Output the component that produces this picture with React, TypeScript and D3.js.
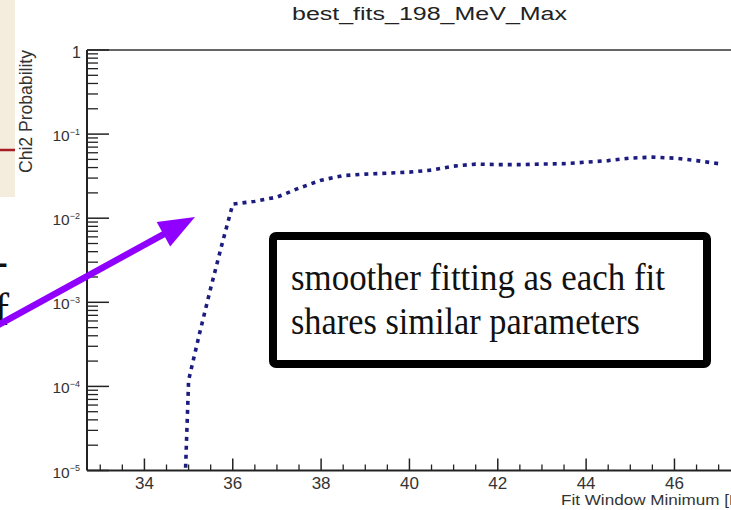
import React from "react";
import * as d3 from "d3";

// Chi2 probability of the best fit vs. the lower edge of the fit window
const fitWindowMin = [
  34.8, 35.0, 35.25, 35.5, 35.75, 36.0, 36.5, 37.0, 37.5, 38.0, 38.5, 39.0, 39.5,
  40.0, 40.5, 41.0, 41.5, 42.0, 42.5, 43.0, 43.5, 44.0, 44.5, 45.0, 45.5, 46.0,
  46.5, 47.0,
];
const chi2Prob = [
  1e-7, 1.18e-4, 4.3e-4, 1.47e-3, 4.77e-3, 0.0147, 0.0159, 0.0178, 0.0228, 0.0283,
  0.0321, 0.0334, 0.0343, 0.0353, 0.0373, 0.0416, 0.044, 0.0434, 0.0434, 0.044,
  0.0445, 0.0464, 0.0484, 0.0518, 0.0532, 0.0518, 0.0484, 0.0445,
];

const xMajorTicks = [34, 36, 38, 40, 42, 44, 46];
const yDecadeExponents = [0, -1, -2, -3, -4, -5];

const plotTitle = "best_fits_198_MeV_Max";
const xAxisTitle = "Fit Window Minimum [MeV]";
const yAxisTitle = "Chi2 Probability";
const noteLines = ["smoother fitting as each fit", "shares similar parameters"];

const SANS = "'Liberation Sans', Arial, Helvetica, sans-serif";
const SERIF = "'Liberation Serif', 'Times New Roman', serif";

export default function App() {
  const W = 731;
  const H = 510;
  const frame = { left: 87, right: 731, top: 50, bottom: 470.5 };

  const x = d3.scaleLinear().domain([32.7, 47.28]).range([frame.left, 731]);
  const y = d3.scaleLog().domain([1e-5, 1]).range([frame.bottom, frame.top]);

  const pts: [number, number][] = fitWindowMin.map((v, i) => [v, chi2Prob[i]]);
  const path = d3
    .line<[number, number]>()
    .x((d) => x(d[0]))
    .y((d) => y(d[1]))(pts) as string;

  // minor x ticks every 0.5 inside the frame
  const xMinor = d3.range(33, 47.51, 0.5).filter((v) => !xMajorTicks.includes(v));
  // minor y ticks 2..9 × each decade
  const yMinor: number[] = [];
  yDecadeExponents.slice(1).forEach((e) => {
    for (let k = 2; k <= 9; k++) yMinor.push(k * Math.pow(10, e));
  });

  // annotation arrow geometry
  const tip = [195, 217];
  const tail = [-40, 324 + 40 * (107 / 195)];
  const ux = (tip[0] - tail[0]);
  const uy = (tip[1] - tail[1]);
  const ul = Math.hypot(ux, uy);
  const u = [ux / ul, uy / ul];
  const n = [-u[1], u[0]];
  const headLen = 36;
  const headHalf = 14;
  const base = [tip[0] - headLen * u[0], tip[1] - headLen * u[1]];
  const c1 = [base[0] + headHalf * n[0], base[1] + headHalf * n[1]];
  const c2 = [base[0] - headHalf * n[0], base[1] - headHalf * n[1]];

  return (
    <div style={{ position: "absolute", left: 0, top: 0 }}>
      <svg width={W} height={H} style={{ display: "block", background: "#fff" }}>
        <defs>
          <clipPath id="frameClip">
            <rect x={frame.left} y={frame.top} width={frame.right - frame.left} height={frame.bottom - frame.top} />
          </clipPath>
        </defs>

        {/* slide margin on the left */}
        <rect x={0} y={0} width={15} height={197} fill="#f4ecdc" />
        <line x1={0} x2={15} y1={150} y2={150} stroke="#a51d22" strokeWidth={2.5} />
        <text x={9} y={325} textAnchor="end" fontFamily={SERIF} fontSize={46} fill="#111">of</text>
        <text x={8} y={276} textAnchor="end" fontFamily={SERIF} fontSize={46} fill="#111">-</text>

        {/* title */}
        <text x={292} y={20} fontFamily={SANS} fontSize={17.5} fill="#222" textLength={275} lengthAdjust="spacingAndGlyphs">
          {plotTitle}
        </text>

        {/* data */}
        <path
          d={path}
          fill="none"
          stroke="#1c1c80"
          strokeWidth={3.6}
          strokeDasharray="4 5"
          clipPath="url(#frameClip)"
        />

        {/* frame top */}
        <line x1={frame.left} x2={frame.right} y1={frame.top} y2={frame.top} stroke="#666" strokeWidth={2} />

        {/* y axis */}
        <line x1={frame.left} x2={frame.left} y1={frame.top} y2={frame.bottom} stroke="#222" strokeWidth={2} />
        {yDecadeExponents.map((e) => (
          <line key={"ymaj" + e} x1={frame.left} x2={frame.left + 22} y1={y(Math.pow(10, e))} y2={y(Math.pow(10, e))} stroke="#222" strokeWidth={1.5} />
        ))}
        {yMinor.map((v, i) => (
          <line key={"ymin" + i} x1={frame.left} x2={frame.left + 11} y1={y(v)} y2={y(v)} stroke="#222" strokeWidth={1.3} />
        ))}
        {yDecadeExponents.map((e) =>
          e === 0 ? (
            <text key={"yl" + e} x={81} y={y(1) + 8} textAnchor="end" fontFamily={SANS} fontSize={16} fill="#333">1</text>
          ) : (
            <text key={"yl" + e} x={80} y={y(Math.pow(10, e)) + 7} textAnchor="end" fontFamily={SANS} fontSize={15.5} fill="#333">
              10
              <tspan dy={-6.5} fontSize={9}>{"\u2212" + Math.abs(e)}</tspan>
            </text>
          )
        )}
        <text
          transform={`translate(32,111.5) rotate(-90)`}
          textAnchor="middle"
          fontFamily={SANS}
          fontSize={18}
          fill="#333"
          textLength={123}
          lengthAdjust="spacingAndGlyphs"
        >
          {yAxisTitle}
        </text>

        {/* x axis */}
        <line x1={frame.left} x2={frame.right} y1={frame.bottom} y2={frame.bottom} stroke="#222" strokeWidth={2} />
        {xMajorTicks.map((v) => (
          <line key={"xmaj" + v} x1={x(v)} x2={x(v)} y1={frame.bottom} y2={frame.bottom - 12} stroke="#222" strokeWidth={1.5} />
        ))}
        {xMinor.map((v, i) => (
          <line key={"xmin" + i} x1={x(v)} x2={x(v)} y1={frame.bottom} y2={frame.bottom - 6} stroke="#222" strokeWidth={1.3} />
        ))}
        {xMajorTicks.map((v) => (
          <text key={"xl" + v} x={x(v)} y={489} textAnchor="middle" fontFamily={SANS} fontSize={17} fill="#333">
            {v}
          </text>
        ))}
        <text x={561} y={505} fontFamily={SANS} fontSize={15.5} fill="#333" textLength={208} lengthAdjust="spacingAndGlyphs">
          {xAxisTitle}
        </text>

        {/* annotation box */}
        <rect x={273} y={236} width={434} height={128} rx={3} fill="#fff" stroke="#000" strokeWidth={8} />
        <text x={291} y={290} fontFamily={SERIF} fontSize={37} fill="#111" textLength={374} lengthAdjust="spacingAndGlyphs">
          {noteLines[0]}
        </text>
        <text x={291} y={334} fontFamily={SERIF} fontSize={37} fill="#111" textLength={349} lengthAdjust="spacingAndGlyphs">
          {noteLines[1]}
        </text>

        {/* arrow */}
        <line x1={tail[0]} y1={tail[1]} x2={base[0] + 2 * u[0]} y2={base[1] + 2 * u[1]} stroke="#8f00ff" strokeWidth={6.5} />
        <path d={`M${tip[0]},${tip[1]}L${c1[0]},${c1[1]}L${c2[0]},${c2[1]}Z`} fill="#8f00ff" />
      </svg>
    </div>
  );
}
